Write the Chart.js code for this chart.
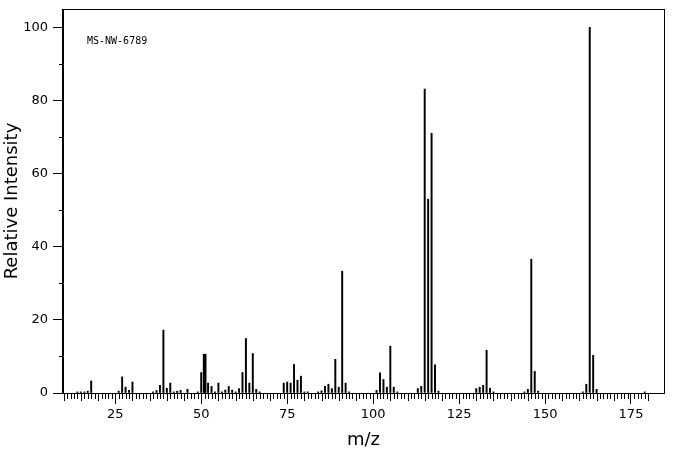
<!DOCTYPE html>
<html>
<head>
<meta charset="utf-8">
<script src="https://cdn.jsdelivr.net/npm/chart.js@4.4.1/dist/chart.umd.min.js"></script>
<style>
  body { margin: 0; background: #fff; }
  canvas { display: block; }
</style>
</head>
<body>
<canvas id="spectrum" width="676" height="455"></canvas>
<script>
// peak positions (m/z) and relative intensities
const mzValues = [
  14, 15, 16, 17, 18, 26, 27, 28, 29, 30,
  36, 37, 38, 39, 40, 41, 42, 43, 44, 46,
  49, 50, 51, 52, 53, 54, 55, 56, 57, 58,
  59, 60, 61, 62, 63, 64, 65, 66, 67, 74,
  75, 76, 77, 78, 79, 80, 81, 84, 85, 86,
  87, 88, 89, 90, 91, 92, 93, 101, 102, 103,
  104, 105, 106, 107, 113, 114, 115, 116, 117, 118,
  119, 130, 131, 132, 133, 134, 135, 144, 145, 146,
  147, 148, 161, 162, 163, 164, 165, 179
];
const intensities = [
  0.3, 0.3, 0.3, 0.5, 3.3, 0.5, 4.4, 1.6, 0.7, 3.0,
  0.3, 0.7, 2.1, 17.2, 1.3, 2.7, 0.3, 0.5, 0.7, 1.0,
  0.3, 5.6, 10.6, 2.7, 1.8, 0.3, 2.7, 0.3, 0.8, 1.8,
  0.8, 0.3, 1.2, 5.6, 14.9, 2.7, 10.8, 1.0, 0.3, 2.7,
  3.0, 2.7, 7.8, 3.5, 4.6, 0.3, 0.3, 0.3, 0.6, 1.8,
  2.4, 1.2, 9.2, 1.6, 33.3, 2.7, 0.3, 0.7, 5.5, 3.7,
  1.6, 12.8, 1.6, 0.3, 1.2, 1.8, 83.1, 53.0, 71.0, 7.7,
  0.5, 1.2, 1.6, 2.1, 11.7, 1.3, 0.3, 0.3, 1.0, 36.6,
  5.9, 0.5, 0.3, 2.4, 100, 10.3, 1.0, 0.3
];
// peaks that show as a heavier line in the reference
const heavyPeaks = [51];

const xTickValues = [25, 50, 75, 100, 125, 150, 175];
const yTickValues = [0, 20, 40, 60, 80, 100];
const sampleLabel = "MS-NW-6789";

const points = mzValues.map((mz, i) => ({ x: mz, y: intensities[i] }));
const heavyPoints = points.filter(p => heavyPeaks.includes(p.x));

const frameAndTicks = {
  id: "frameAndTicks",
  afterDraw(chart) {
    const { ctx, chartArea: a, scales: { x, y } } = chart;
    ctx.save();
    ctx.strokeStyle = "#000";
    ctx.lineWidth = 1;
    ctx.strokeRect(Math.round(a.left) - 0.5, Math.round(a.top) + 0.5,
      Math.round(a.right - a.left) + 1, Math.round(a.bottom - a.top));

    // minor ticks along m/z
    ctx.beginPath();
    for (let v = 10; v <= 180; v++) {
      if (v % 25 === 0) continue;
      const px = Math.round(x.getPixelForValue(v)) + 0.5;
      const len = v % 5 === 0 ? 8 : 6;
      ctx.moveTo(px, a.bottom);
      ctx.lineTo(px, a.bottom + len);
    }
    // minor ticks on intensity
    for (let v = 10; v < 100; v += 20) {
      const py = Math.round(y.getPixelForValue(v)) + 0.5;
      ctx.moveTo(a.left - 4, py);
      ctx.lineTo(a.left, py);
    }
    ctx.stroke();

    ctx.fillStyle = "#000";
    ctx.font = '10px "DejaVu Sans Mono"';
    ctx.textBaseline = "middle";
    ctx.fillText(sampleLabel, a.left + 24, a.top + 32);
    ctx.restore();
  }
};

new Chart(document.getElementById("spectrum"), {
  type: "bar",
  data: {
    datasets: [
      { data: points, backgroundColor: "#000", barThickness: 1.3, grouped: false },
      { data: heavyPoints, backgroundColor: "#000", barThickness: 3, grouped: false }
    ]
  },
  options: {
    responsive: false,
    animation: false,
    devicePixelRatio: 1,
    layout: { padding: { left: 0, top: 9, right: 12, bottom: 0 } },
    plugins: { legend: { display: false }, tooltip: { enabled: false } },
    scales: {
      x: {
        type: "linear",
        min: 9.8,
        max: 184.6,
        offset: false,
        afterBuildTicks: s => { s.ticks = xTickValues.map(v => ({ value: v })); },
        afterFit: s => { s.height = 62; s.paddingLeft = 0; s.paddingRight = 0; },
        grid: { offset: false, drawOnChartArea: false, tickLength: 11, color: "#000" },
        border: { color: "#000" },
        ticks: {
          color: "#000",
          padding: 3,
          maxRotation: 0,
          autoSkip: false,
          font: { family: "DejaVu Sans", size: 13 }
        },
        title: {
          display: true,
          text: "m/z",
          color: "#000",
          padding: { top: 0, bottom: 4 },
          font: { family: "DejaVu Sans", size: 18 }
        }
      },
      y: {
        min: 0,
        max: 105,
        afterBuildTicks: s => { s.ticks = yTickValues.map(v => ({ value: v })); },
        afterFit: s => { s.width = 63; s.paddingTop = 0; s.paddingBottom = 0; },
        grid: { drawOnChartArea: false, tickLength: 10, color: "#000" },
        border: { color: "#000" },
        ticks: {
          color: "#000",
          padding: 5,
          font: { family: "DejaVu Sans", size: 13 }
        },
        title: {
          display: true,
          text: "Relative Intensity",
          color: "#000",
          padding: { top: 2, bottom: 0 },
          font: { family: "DejaVu Sans", size: 18 }
        }
      }
    }
  },
  plugins: [frameAndTicks]
});
</script>
</body>
</html>
